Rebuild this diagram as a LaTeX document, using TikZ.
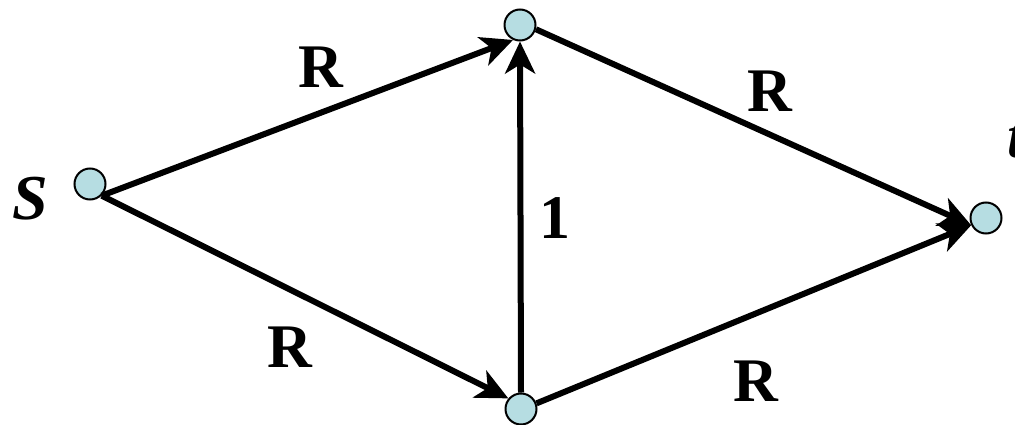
\documentclass[tikz,border=0pt]{standalone}
\usepackage{fontspec}
\setmainfont{Liberation Serif}
\usetikzlibrary{arrows.meta}
\definecolor{vertexfill}{RGB}{182,221,226}
\tikzset{
  vertex/.style={circle, draw=black, line width=2pt, fill=vertexfill,
                 minimum size=31pt, inner sep=0pt},
  edge/.style={line width=6pt,
               -{Stealth[length=32pt, width=30pt, inset=9pt]}},
  weight/.style={font=\fontsize{62}{62}\selectfont\bfseries, inner sep=0pt},
  term/.style={font=\fontsize{64}{64}\selectfont\bfseries\itshape, inner sep=0pt}
}
\begin{document}
\begin{tikzpicture}[x=1pt, y=-1pt]
  \useasboundingbox (0,0) rectangle (1015,425);

  % vertices
  \node[vertex] (s) at (90,184) {};
  \node[vertex] (u) at (520,25) {};
  \node[vertex] (v) at (521,409) {};
  \node[vertex] (t) at (986,218) {};

  % terminal labels
  \node[term] (ls) at (30,199) {S};
  \node[term] (lt) at (1016,140) {t};

  % directed edges
  \draw[edge] (s.-45) -- (u.-115);
  \draw[edge] (s.-45) -- (v.140);
  \draw[edge] (v.north) -- (u.south);
  \draw[edge] (u.-15) -- (t.206);
  \draw[edge] (v.20) -- (t.206);

  % edge weights
  \node[weight] (w1) at (321,67) {R};
  \node[weight] (w2) at (770,91) {R};
  \node[weight] (w3) at (290,347) {R};
  \node[weight] (w4) at (756,381) {R};
  \node[weight] (w5) at (555,218) {1};
\end{tikzpicture}
\end{document}
